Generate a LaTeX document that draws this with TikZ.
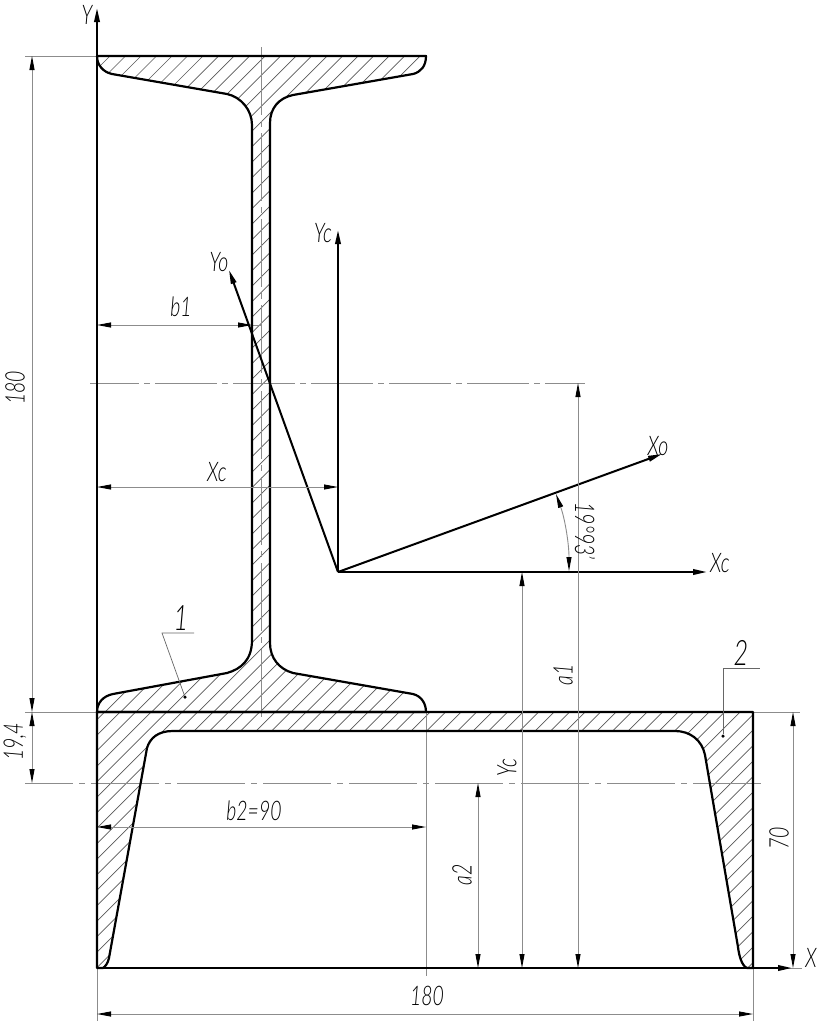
\documentclass[tikz,border=0pt]{standalone}
\usepackage{fontspec}
\setmainfont{Lato Light}[ItalicFont={Lato Light Italic}]
\usetikzlibrary{arrows.meta}
\definecolor{dimgrey}{HTML}{8C8C8C}
\tikzset{
 x=1pt,y=-1pt,
 outline/.style={line width=2.2pt,black,line join=round},
 axisline/.style={line width=2pt,black,-{Stealth[inset=0pt,length=14pt,width=5.5pt]}},
 ext/.style={line width=0.9pt,dimgrey},
 dimline/.style={line width=0.9pt,dimgrey,{Stealth[inset=0pt,length=14pt,width=5pt,black]}-{Stealth[inset=0pt,length=14pt,width=5pt,black]}},
 centerline/.style={line width=1pt,dimgrey,dash pattern=on 68pt off 6pt on 6pt off 6pt},
 hatchline/.style={line width=0.7pt,black!65},
 lead/.style={line width=0.7pt,black!60},
 dot/.style={circle,fill=black,inner sep=0pt,minimum size=3.5pt},
 lbl/.style={inner sep=0pt,font=\fontsize{27}{27}\selectfont\itshape,xscale=0.72},
 rotlbl/.style={inner sep=0pt,font=\fontsize{27}{27}\selectfont\itshape,yscale=0.72},
 bigl/.style={inner sep=0pt,font=\fontsize{35}{35}\selectfont\itshape,xscale=0.72},
}
\newcommand{\ibeam}{(97,56) -- (426,56) .. controls (426,66) and (421,72) .. (413,74) -- (293,95) .. controls (279,98) and (270,108) .. (270,123) -- (270,643) .. controls (270,658) and (279,669) .. (293,673) -- (413,694) .. controls (421,696) and (426,703) .. (426,712) -- (97,712) .. controls (97,703) and (103,696) .. (113,694) -- (227,673) .. controls (241,669) and (252,660) .. (252,640) -- (252,125) .. controls (252,110) and (241,97) .. (227,94) -- (112,74) .. controls (103,72) and (97,65) .. (97,56) -- cycle}
\newcommand{\channel}{(97,712) -- (753,712) -- (753,968) -- (747,968) .. controls (742,966) and (739,956) .. (738,947) -- (705,755) .. controls (702,740) and (690,731) .. (675,731) -- (173,731) .. controls (158,731) and (150,738) .. (147,748) -- (109,958) .. controls (108,963) and (105,967) .. (103,968) -- (97,968) -- cycle}
\begin{document}
\begin{tikzpicture}
\useasboundingbox (0,0) rectangle (820,1023);
\fill[white] (0,0) rectangle (820,1023);
% hatching
\begin{scope}
 \clip \ibeam;
 \foreach \k in {0,...,60} \draw[hatchline] ({166+15.5*\k-1000},1000) -- ({166+15.5*\k+100},-100);
\end{scope}
\begin{scope}
 \clip \channel;
 \foreach \k in {-20,...,80} \draw[hatchline] ({1483-15.5*\k-1000},1000) -- ({1483-15.5*\k+100},-100);
\end{scope}
% named points
\coordinate (O) at (97,968);
\coordinate (C) at (338,572);
\coordinate (yTop) at (97,8);
\coordinate (xEnd) at (792,968);
\coordinate (ycEnd) at (338,230);
\coordinate (xcEnd) at (707,572);
\coordinate (xoEnd) at (662,454);
\coordinate (yoEnd) at (229,270);
% extension and centre lines
\draw[ext] (25,56) -- (97,56);
\draw[ext] (25,712) -- (800,712);
\draw[ext] (97,968) -- (97,1021);
\draw[ext] (753,968) -- (753,1021);
\draw[ext] (426,712) -- (426,976);
\draw[ext] (753,968) -- (802,968);
\draw[ext] (251,325) -- (261,325);
\draw[centerline,dash phase=20pt] (25,783) -- (762,783);
\draw[centerline,dash pattern=on 62pt off 5pt on 6pt off 5pt,dash phase=13pt] (90,383) -- (585,383);
\draw[centerline] (261,47) -- (261,718);
% outlines
\draw[outline] \ibeam;
\draw[outline] \channel;
% axes
\draw[axisline] (O) -- (yTop);
\draw[axisline] (O) -- (xEnd);
\draw[axisline] (C) -- (ycEnd);
\draw[axisline] (C) -- (xcEnd);
\draw[axisline] (C) -- (xoEnd);
\draw[axisline] (C) -- (yoEnd);
% dimensions
\draw[dimline] (32,56) -- (32,712);
\draw[dimline] (32,712) -- (32,783);
\draw[dimline] (97,325) -- (252,325);
\draw[dimline] (97,487) -- (338,487);
\draw[dimline] (97,827) -- (426,827);
\draw[dimline] (97,1014) -- (753,1014);
\draw[dimline] (478,783) -- (478,968);
\draw[dimline] (522,572) -- (522,968);
\draw[dimline] (578,383) -- (578,968);
\draw[dimline] (793,712) -- (793,968);
\draw[dimline] (569,571) .. controls (569,544) and (565,519) .. (556,494);
% leaders
\node[dot] (d1) at (185,697) {};
\node[dot] (d2) at (723,736) {};
\coordinate (l1) at (162,633);
\coordinate (l1e) at (194,633);
\coordinate (l2) at (723,668);
\coordinate (l2e) at (760,668);
\draw[lead] (d1) -- (l1) -- (l1e);
\draw[lead] (d2) -- (l2) -- (l2e);
% labels
\node[lbl] (tY) at (87,15) {Y};
\node[lbl] (tX) at (811,958) {X};
\node[lbl] (tYc) at (323,233) {Yc};
\node[lbl] (tXc) at (720,563) {Xc};
\node[lbl] (tXo) at (658,446) {Xo};
\node[lbl] (tYo) at (219,262) {Yo};
\node[lbl] (tb1) at (181,307) {b1};
\node[lbl] (tXc2) at (217,472) {Xc};
\node[lbl] (tb2) at (254,811) {b2=90};
\node[lbl] (t180b) at (427,996) {180};
\node[rotlbl,rotate=90] (t180) at (15,388) {180};
\node[rotlbl,rotate=90] (t194) at (15,742) {19,4};
\node[rotlbl,rotate=90] (ta2) at (462,875) {a2};
\node[rotlbl,rotate=90] (tYc2) at (507,768) {Yc};
\node[rotlbl,rotate=90] (ta1) at (563,675) {a1};
\node[rotlbl,rotate=90] (t70) at (779,838) {70};
\node[rotlbl,rotate=-90] (tang) at (585,531) {19°93'};
\node[bigl] (t1) at (181,618) {1};
\node[bigl] (t2) at (741,653) {2};
\end{tikzpicture}
\end{document}
